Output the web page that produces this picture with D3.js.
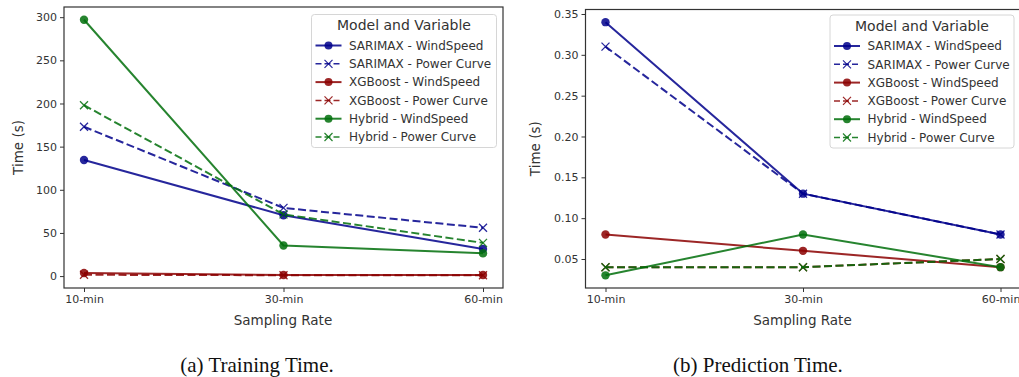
<!DOCTYPE html>
<html>
<head>
<meta charset="utf-8">
<script src="https://cdn.jsdelivr.net/npm/d3@7"></script>
<style>
  body { margin: 0; background: #fff; }
  svg { display: block; }
  text { font-family: "DejaVu Sans", sans-serif; fill: #333; }
  .caption { font-family: "Liberation Serif", serif; fill: #111; }
</style>
</head>
<body>
<div id="chart"></div>
<script>
const rates = ['10-min', '30-min', '60-min'];
const seriesNames = ['SARIMAX - WindSpeed', 'SARIMAX - Power Curve', 'XGBoost - WindSpeed',
  'XGBoost - Power Curve', 'Hybrid - WindSpeed', 'Hybrid - Power Curve'];

// training time (s)
const trainSarimaxWind = [134.5, 70.5, 31.5];
const trainSarimaxPower = [173, 79, 56];
const trainXgbWind = [3.5, 1.3, 1.3];
const trainXgbPower = [1.5, 1.0, 1.0];
const trainHybridWind = [297, 35.5, 26.5];
const trainHybridPower = [198, 71.5, 38.5];

// prediction time (s)
const predSarimaxWind = [0.34, 0.13, 0.08];
const predSarimaxPower = [0.31, 0.13, 0.08];
const predXgbWind = [0.08, 0.06, 0.04];
const predXgbPower = [0.04, 0.04, 0.05];
const predHybridWind = [0.03, 0.08, 0.04];
const predHybridPower = [0.04, 0.04, 0.05];

const trainTicks = [0, 50, 100, 150, 200, 250, 300];
const predTicks = [0.05, 0.10, 0.15, 0.20, 0.25, 0.30, 0.35];

const colors = ['#00008b', '#00008b', '#8b0000', '#8b0000', '#006e0a', '#006e0a'];
const isDashed = [false, true, false, true, false, true];

const width = 1019, height = 377;
const svg = d3.select('#chart').append('svg')
  .attr('width', width)
  .attr('height', height);

function drawPanel(opts) {
  const { box, values, ticks, fmt, legend } = opts;
  const g = svg.append('g');

  const all = values.flat();
  const lo = d3.min(all), hi = d3.max(all), pad = (hi - lo) * 0.05;

  const x = d3.scalePoint().domain(rates).range([box.left + 20, box.right - 20]);
  const y = d3.scaleLinear().domain([lo - pad, hi + pad]).range([box.bottom, box.top]);

  // axes
  const xAxis = g.append('g')
    .attr('transform', 'translate(0,' + box.bottom + ')')
    .call(d3.axisBottom(x).tickSize(4).tickPadding(3));
  const yAxis = g.append('g')
    .attr('transform', 'translate(' + box.left + ',0)')
    .call(d3.axisLeft(y).tickValues(ticks).tickFormat(fmt).tickSize(4).tickPadding(3));
  [xAxis, yAxis].forEach(a => {
    a.select('.domain').remove();
    a.selectAll('line').attr('stroke', '#333');
    a.selectAll('text').style('font-size', '11px').attr('fill', '#333');
  });

  // frame
  g.append('rect')
    .attr('x', box.left).attr('y', box.top)
    .attr('width', box.right - box.left).attr('height', box.bottom - box.top)
    .attr('fill', 'none').attr('stroke', '#333').attr('stroke-width', 1.2);

  g.append('text')
    .attr('x', (box.left + box.right) / 2 + opts.xLabelShift).attr('y', box.bottom + 37)
    .attr('text-anchor', 'middle').style('font-size', '13.5px')
    .text('Sampling Rate');
  g.append('text')
    .attr('transform', 'translate(' + opts.yLabelX + ',' + (box.top + box.bottom) / 2 + ') rotate(-90)')
    .attr('text-anchor', 'middle').attr('dy', '0.35em').style('font-size', '13.5px')
    .text('Time (s)');

  const line = d3.line().x((d, i) => x(rates[i])).y(d => y(d));

  values.forEach((vals, s) => {
    const c = colors[s];
    g.append('path')
      .datum(vals)
      .attr('fill', 'none')
      .attr('stroke', c)
      .attr('stroke-opacity', 0.85)
      .attr('stroke-width', 2)
      .attr('stroke-dasharray', isDashed[s] ? '8,3.5' : null)
      .attr('d', line);
    vals.forEach((v, i) => {
      const px = x(rates[i]), py = y(v);
      if (isDashed[s]) {
        g.append('path')
          .attr('d', `M${px - 4},${py - 4}L${px + 4},${py + 4}M${px - 4},${py + 4}L${px + 4},${py - 4}`)
          .attr('stroke', c).attr('stroke-opacity', 0.85).attr('stroke-width', 1.3);
      } else {
        g.append('circle')
          .attr('cx', px).attr('cy', py).attr('r', 4.2)
          .attr('fill', c).attr('fill-opacity', 0.85);
      }
    });
  });

  // legend
  const lg = g.append('g').attr('transform', 'translate(' + legend.x + ',' + legend.y + ')');
  lg.append('rect')
    .attr('width', legend.w).attr('height', 133)
    .attr('rx', 3)
    .attr('fill', '#fff').attr('fill-opacity', 0.85)
    .attr('stroke', '#d6d6d6');
  lg.append('text')
    .attr('x', legend.w / 2).attr('y', 11).attr('dy', '0.35em')
    .attr('text-anchor', 'middle').style('font-size', '14px')
    .text('Model and Variable');
  seriesNames.forEach((name, s) => {
    const ry = 31 + s * 18.3;
    const c = colors[s];
    lg.append('line')
      .attr('x1', 4).attr('x2', 30).attr('y1', ry).attr('y2', ry)
      .attr('stroke', c).attr('stroke-opacity', 0.85)
      .attr('stroke-width', isDashed[s] ? 1.5 : 2)
      .attr('stroke-dasharray', isDashed[s] ? '6,3' : null);
    if (isDashed[s]) {
      lg.append('path')
        .attr('d', `M13,${ry - 4}L21,${ry + 4}M13,${ry + 4}L21,${ry - 4}`)
        .attr('stroke', c).attr('stroke-opacity', 0.85).attr('stroke-width', 1.2);
    } else {
      lg.append('circle').attr('cx', 17).attr('cy', ry).attr('r', 4)
        .attr('fill', c).attr('fill-opacity', 0.85);
    }
    lg.append('text')
      .attr('x', 37.5).attr('y', ry).attr('dy', '0.35em')
      .style('font-size', '12px')
      .text(name);
  });

  return { x, y };
}

drawPanel({
  box: { left: 64, right: 503, top: 7, bottom: 288 },
  values: [trainSarimaxWind, trainSarimaxPower, trainXgbWind, trainXgbPower, trainHybridWind, trainHybridPower],
  ticks: trainTicks,
  fmt: d3.format('d'),
  legend: { x: 311.5, y: 14.5, w: 185 },
  yLabelX: 18,
  xLabelShift: -0.5
});

drawPanel({
  box: { left: 585.5, right: 1020.5, top: 9.5, bottom: 288 },
  values: [predSarimaxWind, predSarimaxPower, predXgbWind, predXgbPower, predHybridWind, predHybridPower],
  ticks: predTicks,
  fmt: d3.format('.2f'),
  legend: { x: 830, y: 15, w: 184 },
  yLabelX: 535,
  xLabelShift: -0.5
});

// captions
svg.append('text').attr('class', 'caption')
  .attr('x', 257).attr('y', 372).attr('text-anchor', 'middle')
  .style('font-size', '21px')
  .text('(a) Training Time.');
svg.append('text').attr('class', 'caption')
  .attr('x', 758).attr('y', 372).attr('text-anchor', 'middle')
  .style('font-size', '21px')
  .text('(b) Prediction Time.');
</script>
</body>
</html>
